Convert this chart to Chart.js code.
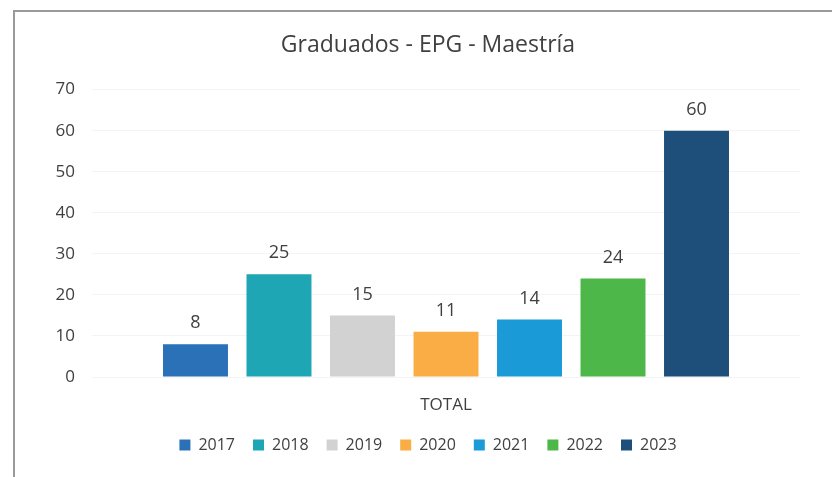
<!DOCTYPE html>
<html>
<head>
<meta charset="utf-8">
<script src="https://cdn.jsdelivr.net/npm/chart.js@4.4.1/dist/chart.umd.min.js"></script>
<style>
  html, body { margin: 0; padding: 0; background: #fff; }
  .wrap { position: relative; width: 832px; height: 477px; overflow: hidden; }
  .frame_top { position: absolute; left: 14px; top: 10px; width: 818px; height: 2px; background: #9a9a9a; }
  .frame_left { position: absolute; left: 13px; top: 10px; width: 2px; height: 467px; background: #9a9a9a; }
  canvas { position: absolute; left: 0; top: 0; }
</style>
</head>
<body>
<div class="wrap">
  <canvas id="graph_epg" width="832" height="477"></canvas>
  <div class="frame_top"></div>
  <div class="frame_left"></div>
</div>
<script>
let categories = ['TOTAL']
let years = ['2017', '2018', '2019', '2020', '2021', '2022', '2023']
let graduados = [8, 25, 15, 11, 14, 24, 60]
let barColors = ['#2a71b8', '#1ea6b4', '#d2d2d2', '#f9ad44', '#1b9ad8', '#4db849', '#1e4f7b']
let yTicks = [0, 10, 20, 30, 40, 50, 60, 70]

let textColor = '#404040'
let fontName = "'Open Sans', sans-serif"

// labels above each bar
const barValueLabels = {
  id: 'barValueLabels',
  afterDatasetsDraw(chart) {
    let ctx = chart.ctx
    ctx.save()
    ctx.font = '18px ' + fontName
    ctx.fillStyle = textColor
    ctx.textAlign = 'center'
    ctx.textBaseline = 'middle'
    chart.data.datasets.forEach((ds, i) => {
      chart.getDatasetMeta(i).data.forEach((bar, j) => {
        ctx.fillText(ds.data[j], bar.x, bar.y - 21)
      })
    })
    ctx.restore()
  }
}

let datasets = years.map((year, i) => ({
  label: year,
  data: [graduados[i]],
  backgroundColor: barColors[i],
  borderWidth: 0,
  barPercentage: 0.778,
  categoryPercentage: 0.8256
}))

new Chart(document.getElementById('graph_epg'), {
  type: 'bar',
  data: {
    labels: categories,
    datasets: datasets
  },
  plugins: [barValueLabels],
  options: {
    responsive: false,
    animation: false,
    layout: {
      padding: { top: 32, left: 56, right: 32, bottom: 14 }
    },
    plugins: {
      title: {
        display: true,
        text: 'Graduados - EPG - Maestría',
        color: textColor,
        font: { family: fontName, size: 23, weight: 'normal' },
        padding: { top: 0, bottom: 30 }
      },
      legend: {
        position: 'bottom',
        labels: {
          color: textColor,
          font: { family: fontName, size: 16 },
          boxWidth: 11,
          boxHeight: 11,
          padding: 18
        }
      },
      tooltip: { enabled: false }
    },
    scales: {
      x: {
        grid: { display: false },
        border: { display: false },
        afterFit: axis => {
          axis.height = 42
        },
        ticks: {
          color: textColor,
          font: { family: fontName, size: 17 },
          padding: 10
        }
      },
      y: {
        min: 0,
        max: 70,
        afterBuildTicks: axis => {
          axis.ticks = yTicks.map(v => ({ value: v }))
        },
        afterFit: axis => {
          axis.width = 36
        },
        grid: { color: '#f4f4f4', drawTicks: false },
        border: { display: false },
        ticks: {
          color: textColor,
          font: { family: fontName, size: 17 },
          padding: 17
        }
      }
    }
  }
})
</script>
</body>
</html>
